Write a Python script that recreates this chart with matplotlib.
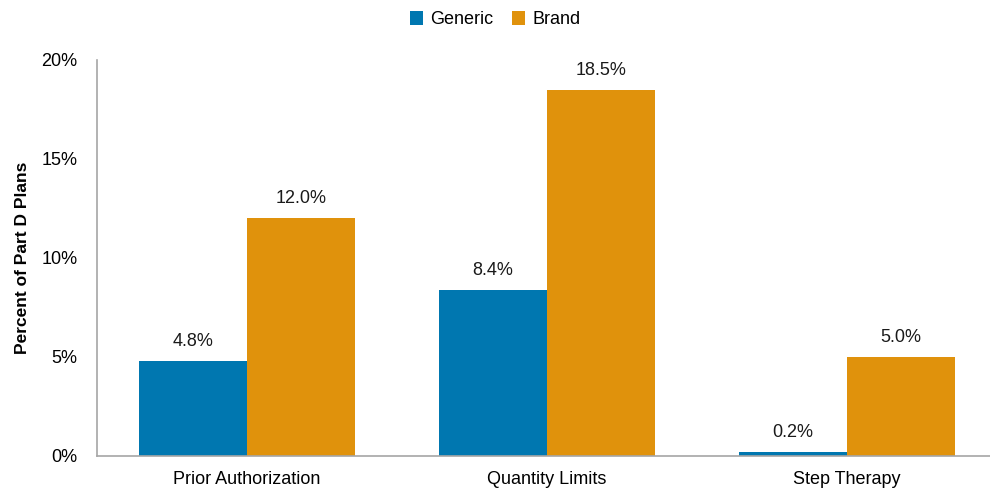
import numpy as np
import matplotlib.pyplot as plt

plt.rcParams['font.family'] = ['Liberation Sans', 'DejaVu Sans']

categories = ["Prior Authorization", "Quantity Limits", "Step Therapy"]
generic = [4.8, 8.4, 0.2]
brand = [12.0, 18.5, 5.0]

c_generic = "#0077B0"
c_brand = "#E0920C"
grey = "#A6A6A6"

fig = plt.figure(figsize=(9.9, 4.95), dpi=100)
ax = fig.add_axes([0.098, 0.079, 0.909, 0.800])

x = np.arange(len(categories))
w = 0.36
b1 = ax.bar(x - w/2, generic, w, color=c_generic, label="Generic")
b2 = ax.bar(x + w/2, brand, w, color=c_brand, label="Brand")

for bars, vals in ((b1, generic), (b2, brand)):
    for r, v in zip(bars, vals):
        ax.text(r.get_x() + r.get_width()/2, v + 0.55, f"{v:.1f}%",
                ha="center", va="bottom", fontsize=13, color="#1a1a1a")

ax.set_xlim(-0.5, 2.5)
ax.set_ylim(0, 20)
ax.set_yticks([0, 5, 10, 15, 20])
ax.set_yticklabels([f"{t}%" for t in [0, 5, 10, 15, 20]], fontsize=13)
ax.set_xticks(x)
ax.set_xticklabels(categories, fontsize=13)
ax.tick_params(axis="y", length=0, pad=14)
ax.tick_params(axis="x", length=0, pad=11)
ax.set_ylabel("Percent of Part D Plans", fontsize=12.5, fontweight="bold", labelpad=8)

for s in ("top", "right"):
    ax.spines[s].set_visible(False)
for s in ("left", "bottom"):
    ax.spines[s].set_color(grey)
    ax.spines[s].set_linewidth(1.2)

fig.legend(loc="upper center", bbox_to_anchor=(0.5, 1.01), ncol=2, frameon=False,
           fontsize=13, handlelength=0.75, handleheight=0.75, handletextpad=0.4,
           columnspacing=1.0)

fig.savefig("out.png", dpi=100)
